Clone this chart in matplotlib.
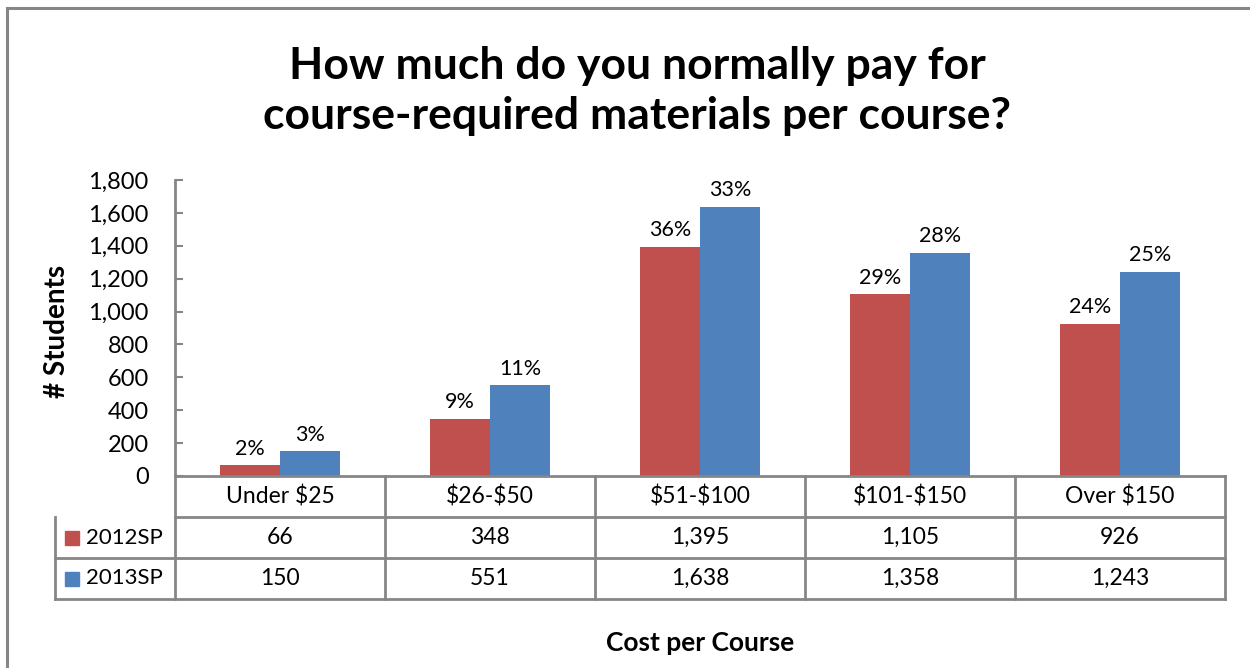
import matplotlib.pyplot as plt
from matplotlib.patches import Rectangle
import numpy as np

categories = ["Under $25", "$26-$50", "$51-$100", "$101-$150", "Over $150"]
series = ["2012SP", "2013SP"]
vals_2012 = [66, 348, 1395, 1105, 926]
vals_2013 = [150, 551, 1638, 1358, 1243]
pct_2012 = ["2%", "9%", "36%", "29%", "24%"]
pct_2013 = ["3%", "11%", "33%", "28%", "25%"]
colors = ["#C0504D", "#4F81BD"]
GRID = "#868686"

plt.rcParams['font.family'] = ['Lato', 'DejaVu Sans']
plt.rcParams['text.parse_math'] = False

W, H = 1250, 668
fig = plt.figure(figsize=(W / 100, H / 100), dpi=100)

# outer chart border (left + top only visible)
fig.patches.append(Rectangle((7 / W, -0.1), 1.2, 1 - 8 / H + 0.1, transform=fig.transFigure,
                             fill=False, edgecolor=GRID, linewidth=2.2))

ax = fig.add_axes([175 / W, 1 - 476 / H, 1050 / W, 296 / H])
x = np.arange(len(categories))
bw = 60 / 210
b1 = ax.bar(x - bw / 2, vals_2012, bw, color=colors[0])
b2 = ax.bar(x + bw / 2, vals_2013, bw, color=colors[1])
for bars, labs in ((b1, pct_2012), (b2, pct_2013)):
    for b, lab in zip(bars, labs):
        ax.text(b.get_x() + b.get_width() / 2, b.get_height() + 40, lab,
                ha='center', va='bottom', fontsize=15.5)

ax.set_xlim(-0.5, len(categories) - 0.5)
ax.set_ylim(0, 1800)
ax.set_yticks(range(0, 1801, 200))
ax.set_yticklabels([f"{v:,}" for v in range(0, 1801, 200)], fontsize=17)
ax.tick_params(axis='y', direction='in', length=6, width=1.5, color=GRID, pad=19)
ax.set_xticks([])
for s in ('top', 'right', 'bottom'):
    ax.spines[s].set_visible(False)
ax.spines['left'].set_color(GRID)
ax.spines['left'].set_linewidth(2)

# data table below the axis
tr = ax.get_xaxis_transform()
rh = 41 / 296
xl = -0.5 - 120 / 210
xr = len(categories) - 0.5
kw = dict(transform=tr, color=GRID, lw=2, clip_on=False, solid_capstyle='projecting')
ax.plot([-0.5, xr], [0, 0], **kw)
for i in range(1, 4):
    ax.plot([xl if i > 1 else -0.5, xr], [-i * rh, -i * rh], **kw)
for b in np.arange(-0.5, len(categories), 1.0):
    ax.plot([b, b], [0, -3 * rh], **kw)
ax.plot([xl, xl], [-rh, -3 * rh], **kw)

for i, c in enumerate(categories):
    ax.text(i, -0.5 * rh, c, transform=tr, ha='center', va='center', fontsize=16.5)
    ax.text(i, -1.5 * rh, f"{vals_2012[i]:,}", transform=tr, ha='center', va='center', fontsize=16.5)
    ax.text(i, -2.5 * rh, f"{vals_2013[i]:,}", transform=tr, ha='center', va='center', fontsize=16.5)

for j, (name, col) in enumerate(zip(series, colors)):
    yc = -(1.5 + j) * rh
    ax.add_patch(Rectangle((xl + 10 / 210, yc - 7 / 296), 14 / 210, 14 / 296, transform=tr,
                           color=col, clip_on=False))
    ax.text(xl + 31 / 210, yc, name, transform=tr, ha='left', va='center', fontsize=16)

fig.text(700 / W, 1 - 643 / H, "Cost per Course", ha='center', va='center',
         fontsize=19, fontweight='bold')
fig.text(57 / W, 1 - 331 / H, "# Students", ha='center', va='center', rotation=90,
         fontsize=20, fontweight='bold')
fig.text(637 / W, 1 - 91 / H, "How much do you normally pay for\ncourse-required materials per course?",
         ha='center', va='center', fontsize=32, fontweight='bold', linespacing=1.3)

fig.savefig("out.png", dpi=100)
